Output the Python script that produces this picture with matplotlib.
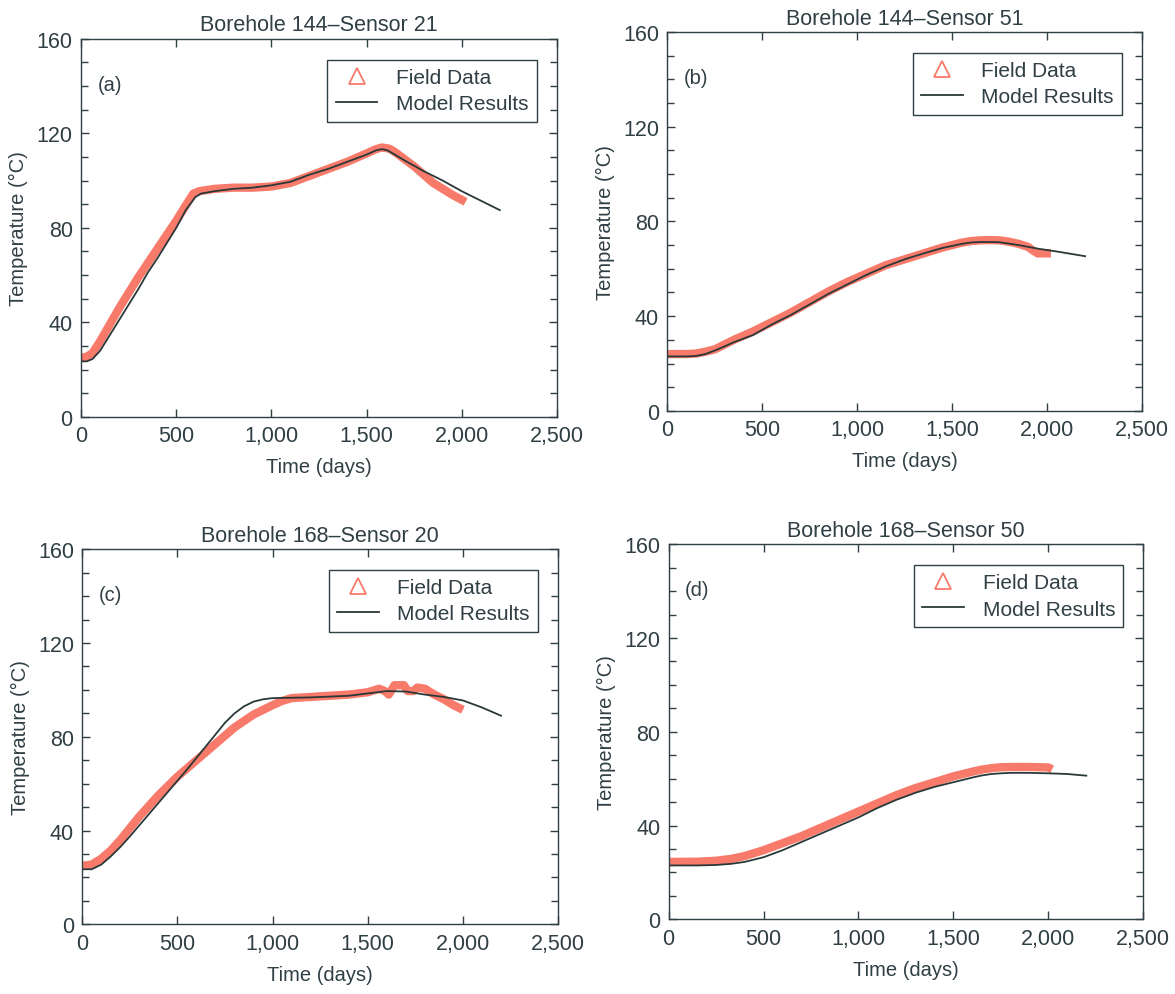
import matplotlib
matplotlib.use('Agg')
import matplotlib.pyplot as plt
from matplotlib.lines import Line2D
from matplotlib.ticker import MultipleLocator, FuncFormatter

plt.rcParams['font.family'] = ['Liberation Sans', 'DejaVu Sans']

# Datos: (a) Borehole 144-Sensor 21
t_campo_a = [0, 30, 60, 100, 150, 200, 300, 400, 500, 550, 590, 620, 700, 800, 900,
             1000, 1100, 1200, 1300, 1400, 1500, 1550, 1580, 1620, 1650, 1750, 1850,
             1950, 2020]
T_campo_a = [25, 25.5, 27, 32, 39, 46, 59, 71, 83, 89.5, 94.5, 95.5, 96.5, 97, 97,
             97.5, 99, 102, 105, 108, 111.5, 113.3, 114, 113.5, 112, 106, 99,
             94, 91]
t_modelo_a = [0, 30, 60, 100, 150, 200, 300, 350, 400, 500, 550, 600, 630, 700, 800,
              900, 1000, 1100, 1200, 1300, 1400, 1500, 1550, 1580, 1610, 1700, 1800,
              1900, 2000, 2100, 2200]
T_modelo_a = [23.5, 23.5, 24.5, 28, 34.5, 41, 54, 61, 67, 80, 87.5, 93, 94.5, 95.5,
              96.5, 97, 98, 99.5, 102.5, 105, 108, 111, 112.8, 113.3, 112.8, 108.5,
              104, 100, 95.5, 91.5, 87.5]

# (b) Borehole 144-Sensor 51
t_campo_b = [0, 100, 150, 200, 250, 300, 350, 450, 550, 650, 750, 850, 950, 1050,
             1150, 1250, 1350, 1450, 1550, 1600, 1650, 1700, 1750, 1800, 1850, 1900,
             1920, 1950, 2020]
T_campo_b = [24, 24, 24.2, 25, 26, 28, 30, 33.5, 37.5, 41.5, 46, 50.5, 54.5, 58,
             61.5, 64, 66.5, 69, 71, 71.7, 72, 72.1, 72, 71.4, 70.5, 69.2,
             68, 66.5, 66.5]
t_modelo_b = [0, 100, 150, 200, 250, 300, 350, 450, 550, 650, 750, 850, 950, 1050,
              1150, 1250, 1350, 1450, 1550, 1600, 1650, 1700, 1750, 1850, 1950, 2050,
              2200]
T_modelo_b = [23, 23, 23.2, 24, 25.5, 27.2, 29, 32, 36.5, 40.5, 45, 49.5, 53.5,
              57.5, 61, 64, 66.5, 68.8, 70.5, 71.1, 71.3, 71.3, 71.2, 70, 68.5,
              67.3, 65.3]

# (c) Borehole 168-Sensor 20
t_campo_c = [0, 50, 100, 150, 200, 300, 400, 500, 600, 700, 800, 900, 1000, 1050,
             1100, 1200, 1300, 1400, 1500, 1560, 1590, 1610, 1640, 1690, 1710, 1740,
             1760, 1800, 1850, 1900, 1950, 2000]
T_campo_c = [25, 25.5, 28, 31.5, 36, 46, 55, 63, 70, 77, 84, 89.5, 93.5, 95.3,
             96.5, 97, 97.5, 98, 99, 100.5, 99.5, 98, 102, 102, 99.5, 99.5, 101,
             100.5, 98, 96, 93.5, 91.5]
t_modelo_c = [0, 50, 100, 150, 200, 250, 350, 450, 550, 650, 700, 750, 800, 850, 900,
              950, 1000, 1200, 1400, 1500, 1600, 1700, 1800, 1900, 2000, 2100, 2200]
T_modelo_c = [23.5, 23.5, 25.5, 29, 33, 37.5, 47, 56.5, 66, 76, 81, 86, 90, 93, 95,
              96, 96.5, 96.8, 97.5, 98.5, 99.5, 99.3, 98, 97, 95.5, 92.5, 89]

# (d) Borehole 168-Sensor 50
t_campo_d = [0, 150, 250, 330, 400, 500, 600, 700, 800, 900, 1000, 1100, 1200, 1300,
             1400, 1500, 1600, 1650, 1700, 1750, 1800, 1900, 2000, 2020]
T_campo_d = [24.5, 24.6, 25, 25.8, 27, 29.5, 32.5, 35.5, 39, 42.5, 46, 49.5, 53, 56,
             58.5, 61, 63, 63.9, 64.5, 64.9, 65, 65, 64.8, 64]
t_modelo_d = [0, 150, 250, 330, 400, 500, 600, 700, 800, 900, 1000, 1100, 1200, 1300,
              1400, 1500, 1600, 1650, 1700, 1750, 1800, 1900, 2000, 2100, 2200]
T_modelo_d = [23, 23, 23.2, 23.7, 24.5, 26.5, 29.5, 33, 36.5, 40, 43.5, 47.5, 51, 54,
              56.5, 58.5, 60.5, 61.4, 62, 62.3, 62.5, 62.5, 62.3, 62, 61.3]

titulos = ['Borehole 144\u2013Sensor 21', 'Borehole 144\u2013Sensor 51',
           'Borehole 168\u2013Sensor 20', 'Borehole 168\u2013Sensor 50']
etiquetas = ['(a)', '(b)', '(c)', '(d)']
campo = [(t_campo_a, T_campo_a), (t_campo_b, T_campo_b),
         (t_campo_c, T_campo_c), (t_campo_d, T_campo_d)]
modelo = [(t_modelo_a, T_modelo_a), (t_modelo_b, T_modelo_b),
          (t_modelo_c, T_modelo_c), (t_modelo_d, T_modelo_d)]

# posiciones de los ejes en la figura
posiciones = [[0.069, 0.580, 0.405, 0.380], [0.568, 0.586, 0.404, 0.381],
              [0.070, 0.070, 0.405, 0.377], [0.569, 0.075, 0.404, 0.377]]

color_texto = '#2f3f44'
color_campo = '#f87a6b'
color_modelo = '#2a3838'

fig = plt.figure(figsize=(11.75, 9.95), dpi=100)

for i in range(4):
    ax = fig.add_axes(posiciones[i])
    tc, Tc = campo[i]
    tm, Tm = modelo[i]
    ax.plot(tc, Tc, color=color_campo, linewidth=6, solid_capstyle='butt',
            solid_joinstyle='round')
    ax.plot(tm, Tm, color=color_modelo, linewidth=1.3)

    ax.set_xlim(0, 2500)
    ax.set_ylim(0, 160)
    ax.xaxis.set_major_locator(MultipleLocator(500))
    ax.yaxis.set_major_locator(MultipleLocator(40))
    ax.yaxis.set_minor_locator(MultipleLocator(10))
    ax.xaxis.set_major_formatter(FuncFormatter(lambda v, p: f'{int(v):,}'))
    ax.tick_params(which='both', direction='in', top=True, right=True,
                   color=color_texto, labelcolor=color_texto, labelsize=15.5, pad=6)
    ax.tick_params(which='major', length=6, width=1)
    ax.tick_params(which='minor', length=5, width=1)
    for s in ax.spines.values():
        s.set_color(color_texto)
        s.set_linewidth(1)

    ax.set_title(titulos[i], fontsize=15.5, color=color_texto, pad=6)
    ax.set_xlabel('Time (days)', fontsize=14.5, color=color_texto, labelpad=8)
    ax.set_ylabel('Temperature (\u00b0C)', fontsize=14.5, color=color_texto, labelpad=6)
    ax.text(0.035, 0.88, etiquetas[i], transform=ax.transAxes, fontsize=14.5,
            color=color_texto, va='center')

    manejadores = [Line2D([], [], marker='^', linestyle='none', markerfacecolor='none',
                          markeredgecolor=color_campo, markersize=12, markeredgewidth=1.3),
                   Line2D([], [], color=color_modelo, linewidth=1.3)]
    leg = ax.legend(manejadores, ['Field Data', 'Model Results'], loc='upper right',
                    bbox_to_anchor=(0.958, 0.945), borderaxespad=0, fontsize=15,
                    frameon=True, fancybox=False, framealpha=1, handlelength=2.0,
                    labelspacing=0.35, borderpad=0.4, handletextpad=0.9)
    leg.get_frame().set_edgecolor(color_texto)
    leg.get_frame().set_linewidth(1)
    for txt in leg.get_texts():
        txt.set_color(color_texto)

fig.savefig('out.png', dpi=100)
